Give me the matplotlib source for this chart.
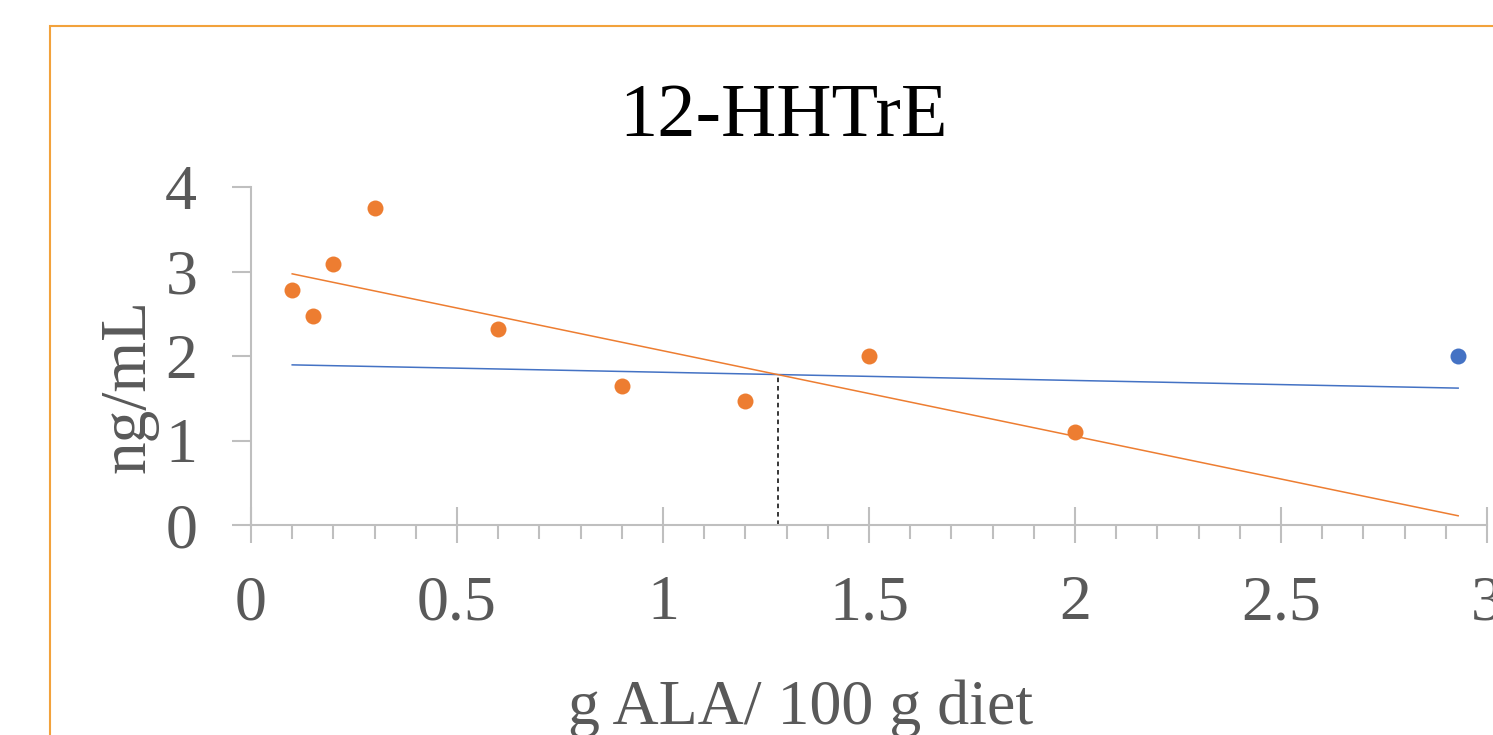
import matplotlib
matplotlib.use("Agg")
import matplotlib.pyplot as plt
import numpy as np
from matplotlib.patches import Rectangle
from matplotlib.ticker import FixedLocator, MultipleLocator

# data
orange_x = [0.1, 0.15, 0.2, 0.3, 0.6, 0.9, 1.2, 1.5, 2.0]
orange_y = [2.78, 2.47, 3.09, 3.75, 2.32, 1.65, 1.47, 2.0, 1.1]
blue_x = [2.93]
blue_y = [2.0]
trend_x = [0.1, 2.93]
blue_trend_y = [1.895, 1.62]

xticks = [0, 0.5, 1, 1.5, 2, 2.5, 3]
xtick_labels = ["0", "0.5", "1", "1.5", "2", "2.5", "3"]
yticks = [0, 1, 2, 3, 4]
ytick_labels = ["0", "1", "2", "3", "4"]

title = "12-HHTrE"
xlabel = "g ALA/ 100 g diet"
ylabel = "ng/mL"

ORANGE = "#ED7D31"
BLUE = "#4472C4"
AXIS_GREY = "#BFBFBF"
TEXT_GREY = "#595959"
FRAME = "#F2A23C"

plt.rcParams["font.family"] = ["Liberation Serif", "DejaVu Serif"]

W, H = 1493, 735
fig = plt.figure(figsize=(W / 100, H / 100), dpi=100)
ax = fig.add_axes([251 / W, 1 - 525 / H, (1487 - 251) / W, (525 - 187) / H])

# trend lines: least squares fit for orange, blue line from its end points
m_o, b_o = np.polyfit(orange_x, orange_y, 1)
m_b, b_b = np.polyfit(trend_x, blue_trend_y, 1)
tx = np.array(trend_x)
ax.plot(tx, m_b * tx + b_b, color=BLUE, lw=1.1, zorder=2)
ax.plot(tx, m_o * tx + b_o, color=ORANGE, lw=1.1, zorder=2)

# where the two lines cross
x_cross = (b_b - b_o) / (m_o - m_b)
y_cross = m_o * x_cross + b_o
ax.plot([x_cross, x_cross], [0, y_cross], color="black", lw=1.1,
        ls=(0, (3, 2.5)), zorder=2)

ax.plot(orange_x, orange_y, "o", color=ORANGE, ms=11.5, mew=0, zorder=3)
ax.plot(blue_x, blue_y, "o", color=BLUE, ms=11.5, mew=0, zorder=3)

ax.set_xlim(0, 3)
ax.set_ylim(0, 4)
ax.xaxis.set_major_locator(FixedLocator(xticks))
ax.set_xticklabels(xtick_labels)
ax.xaxis.set_minor_locator(MultipleLocator(0.1))
ax.set_yticks(yticks)
ax.set_yticklabels(ytick_labels)

for side in ["top", "right"]:
    ax.spines[side].set_visible(False)
for side in ["left", "bottom"]:
    ax.spines[side].set_color(AXIS_GREY)
    ax.spines[side].set_linewidth(1.5)

ax.tick_params(axis="x", which="major", direction="inout", length=26.6,
               width=1.5, color=AXIS_GREY, labelsize=46, labelcolor=TEXT_GREY,
               pad=23)
ax.tick_params(axis="x", which="minor", direction="out", length=10,
               width=1.5, color=AXIS_GREY)
ax.tick_params(axis="y", which="major", direction="out", length=13.7,
               width=1.5, color=AXIS_GREY, labelsize=46, labelcolor=TEXT_GREY,
               pad=25)

fig.text(784 / W, 1 - 136 / H, title, ha="center", va="baseline",
         fontsize=55, color="black")
# descenders of the x label touch the bottom edge, as in the source image
fig.text(801 / W, 1 - 724 / H, xlabel, ha="center", va="baseline",
         fontsize=46, color=TEXT_GREY)
fig.text(129 / W, 1 - 386 / H, ylabel, ha="center", va="center",
         rotation=90, fontsize=47, color=TEXT_GREY)

# chart area border, runs off the right and bottom edges
fig.add_artist(Rectangle((50 / W, -0.2), 1.2, 1 - 26 / H + 0.2,
                         transform=fig.transFigure, fill=False,
                         ec=FRAME, lw=1.5))

fig.savefig("out.png", dpi=100)
